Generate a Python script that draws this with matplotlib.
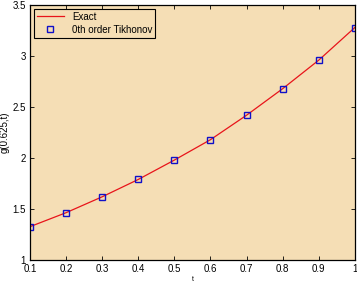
import matplotlib
matplotlib.use("Agg")
import matplotlib.pyplot as plt

t = [0.1, 0.2, 0.3, 0.4, 0.5, 0.6, 0.7, 0.8, 0.9, 1.0]
g_exact = [1.327, 1.464, 1.62, 1.79, 1.98, 2.18, 2.42, 2.68, 2.96, 3.28]
g_tik = [1.327, 1.464, 1.62, 1.79, 1.98, 2.18, 2.42, 2.68, 2.96, 3.28]
xticks = [0.1, 0.2, 0.3, 0.4, 0.5, 0.6, 0.7, 0.8, 0.9, 1]
xticklabels = ["0.1", "0.2", "0.3", "0.4", "0.5", "0.6", "0.7", "0.8", "0.9", "1"]
yticks = [1, 1.5, 2, 2.5, 3, 3.5]
yticklabels = ["1", "1.5", "2", "2.5", "3", "3.5"]

plt.rcParams['font.family'] = ['Liberation Sans', 'DejaVu Sans']
fig = plt.figure(figsize=(3.57, 2.82), dpi=100)
ax = fig.add_axes([0.084, 0.078, 0.910, 0.904])
ax.set_facecolor('#F5DEB5')
ax.plot(t, g_exact, color='#E8141A', lw=0.9, label='Exact')
ax.plot(t, g_tik, linestyle='none', marker='s', ms=4.5, mfc='none', mec='#1010C8', mew=1.0,
        label='0th order Tikhonov')
ax.set_xlim(0.1, 1)
ax.set_ylim(1, 3.5)
ax.set_xticks(xticks)
ax.set_xticklabels(xticklabels)
ax.set_yticks(yticks)
ax.set_yticklabels(yticklabels)
ax.tick_params(direction='in', top=True, right=True, labelsize=7, length=3, width=0.6, pad=3)
for s in ax.spines.values():
    s.set_linewidth(0.9)
ax.set_xlabel('t', fontsize=5, labelpad=1)
ax.set_ylabel('g(0.625,t)', fontsize=7, labelpad=2)
leg = ax.legend(loc='upper left', fontsize=7, fancybox=False, framealpha=1, edgecolor='black',
                facecolor='#F5DEB5', borderpad=0.3, handlelength=2.8, labelspacing=0.3,
                borderaxespad=0.4)
leg.get_frame().set_linewidth(0.8)
fig.savefig('out.png', dpi=100)
